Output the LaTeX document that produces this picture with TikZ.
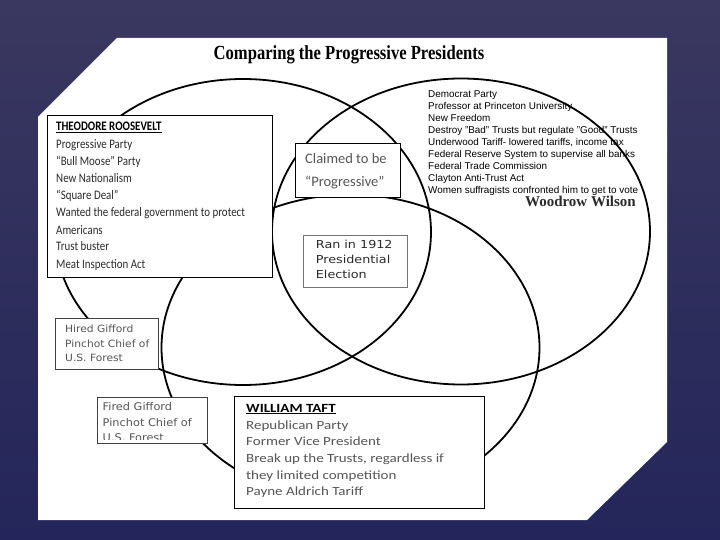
\documentclass[tikz,border=0pt]{standalone}
\usepackage{fontspec}
\setmainfont{Liberation Sans}
\newfontfamily\titlefont[FakeStretch=0.83]{Liberation Serif}
\newfontfamily\namefont{Liberation Serif}
\newfontfamily\calnarrow[FakeStretch=0.84]{Carlito}
\newfontfamily\calwide[FakeStretch=1.2]{Carlito}
\newfontfamily\calplain{Carlito}
\newfontfamily\vernarrow[FakeStretch=1.07]{DejaVu Sans}
\newfontfamily\verwide[FakeStretch=1.16]{DejaVu Sans}
\definecolor{slidetop}{HTML}{3A3860}
\definecolor{slidebot}{HTML}{24255A}
\definecolor{inkdark}{HTML}{2B2B2B}
\definecolor{inkgray}{HTML}{555555}
\tikzset{
  venn/.style={draw=black, line width=1.8pt},
  card/.style={draw=black, fill=white, line width=0.8pt},
  txt/.style={anchor=base west, inner sep=0pt},
}

\begin{document}
\begin{tikzpicture}[x=1pt,y=-1pt]
\useasboundingbox (0,0) rectangle (720,540);
\shade[top color=slidetop, bottom color=slidebot] (0,0) rectangle (720,540);
\fill[white] (38,117) -- (117,38) -- (667,38) -- (667,442) -- (587,520) -- (38,520) -- cycle;
\node[anchor=base, inner sep=0pt, font=\titlefont\bfseries\fontsize{20}{24}\selectfont] (title) at (349,60) {Comparing the Progressive Presidents};
% the three circles
\draw[venn] (243,232) ellipse [x radius=188, y radius=153];
\draw[venn] (461,231.5) ellipse [x radius=189, y radius=153];
\draw[venn] (350.5,347.6) ellipse [x radius=189, y radius=153];
% Roosevelt
\draw[card] (47,115) rectangle (272,277);
\node[txt, font=\calnarrow\bfseries\fontsize{13}{15}\selectfont, text=black] (troos) at (56,130.5) {\underline{THEODORE ROOSEVELT}};
\foreach \t [count=\i] in {Progressive Party, “Bull Moose” Party, New Nationalism, “Square Deal”,
  Wanted the federal government to protect, Americans, Trust buster, Meat Inspection Act}
  \node[txt, font=\calnarrow\fontsize{13}{15}\selectfont, text=inkdark] (r\i) at (56,{149+17*(\i-1)}) {\t};
% shared boxes
\draw[card] (295,143) rectangle (400,197);
\node[txt, font=\calplain\fontsize{14.5}{17}\selectfont, text=inkgray] (claim1) at (305,164) {Claimed to be};
\node[txt, font=\calplain\fontsize{14.5}{17}\selectfont, text=inkgray] (claim2) at (305,186.7) {“Progressive”};
\draw[card, draw=black!55] (303,235) rectangle (407,287);
\foreach \t [count=\i] in {Ran in 1912, Presidential, Election}
  \node[txt, font=\verwide\fontsize{11}{13}\selectfont, text=inkdark] (ran\i) at (315.7,{248.7+15*(\i-1)}) {\t};
\draw[card, draw=black!75] (55,318) rectangle (158,369);
\foreach \t [count=\i] in {Hired Gifford, Pinchot Chief of, U.S. Forest}
  \node[txt, font=\vernarrow\fontsize{10}{12}\selectfont, text=inkgray] (hire\i) at (65,{332.5+14.7*(\i-1)}) {\t};
\draw[card, draw=black!75] (97,397) rectangle (207,443.5);
\begin{scope}
\clip (97,397) rectangle (207,439.5);
\foreach \t [count=\i] in {Fired Gifford, Pinchot Chief of, U.S. Forest}
  \node[txt, font=\vernarrow\fontsize{10.6}{12}\selectfont, text=inkgray] (fire\i) at (102.5,{410.5+15.5*(\i-1)}) {\t};
\end{scope}
% Wilson
\foreach \t [count=\i] in {Democrat Party, Professor at Princeton University, New Freedom,
  Destroy "Bad" Trusts but regulate "Good" Trusts, {Underwood Tariff- lowered tariffs,  income tax},
  Federal Reserve System to supervise all banks, Federal Trade Commission, Clayton Anti-Trust Act,
  Women suffragists confronted him to get to vote}
  \node[txt, font=\fontsize{9.9}{12}\selectfont, text=black] (w\i) at (428,{97.5+12*(\i-1)}) {\t};
\node[anchor=base east, inner sep=0pt, font=\namefont\bfseries\fontsize{15}{18}\selectfont, text=inkdark] (wilson) at (636,207) {Woodrow Wilson};
% Taft
\draw[card] (234,396) rectangle (484,508);
\node[txt, font=\calwide\bfseries\fontsize{12.5}{15}\selectfont, text=black] (ttaft) at (246,412) {\underline{WILLIAM TAFT}};
\foreach \t [count=\i] in {Republican Party, Former Vice President, {Break up the Trusts, regardless if},
  they limited competition, Payne Aldrich Tariff}
  \node[txt, font=\calwide\fontsize{12.5}{15}\selectfont, text=inkgray] (t\i) at (246,{429+16.7*(\i-1)}) {\t};
\end{tikzpicture}
\end{document}
